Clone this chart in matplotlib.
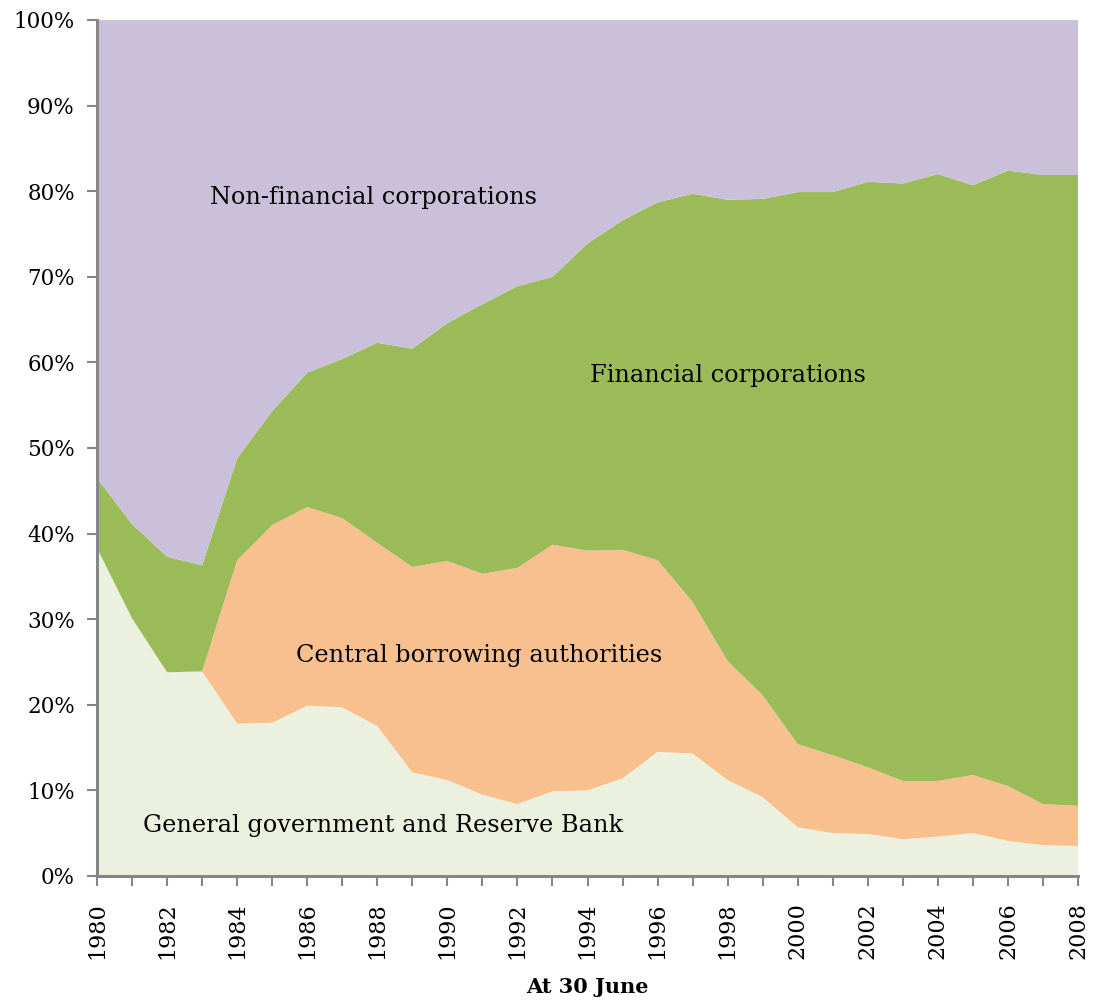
import matplotlib.pyplot as plt
import numpy as np

# shares of total, per cent, at 30 June
years = list(range(1980, 2009))
general_gov = [38.3, 30.1, 23.8, 23.9, 17.8, 17.9, 19.9, 19.7, 17.5, 12.1,
               11.2, 9.5, 8.4, 9.9, 10.0, 11.4, 14.5, 14.3, 11.2, 9.2,
               5.7, 5.0, 4.9, 4.3, 4.6, 5.0, 4.1, 3.6, 3.5]
central_borrowing = [0, 0, 0, 0, 19.1, 23.1, 23.2, 22.1, 21.4, 24.0,
                     25.6, 25.8, 27.6, 28.8, 28.0, 26.7, 22.4, 17.7, 13.9, 11.9,
                     9.7, 9.1, 7.8, 6.8, 6.5, 6.8, 6.4, 4.8, 4.7]
financial = [8.2, 11.0, 13.5, 12.4, 11.9, 13.3, 15.7, 18.6, 23.4, 25.5,
             27.8, 31.5, 32.9, 31.3, 35.9, 38.5, 41.8, 47.7, 53.9, 58.0,
             64.5, 65.8, 68.4, 69.8, 70.9, 68.9, 71.9, 73.5, 73.7]
non_financial = [53.5, 58.9, 62.7, 63.7, 51.2, 45.7, 41.2, 39.6, 37.7, 38.4,
                 35.4, 33.2, 31.1, 30.0, 26.1, 23.4, 21.3, 20.3, 21.0, 20.9,
                 20.1, 20.1, 18.9, 19.1, 18.0, 19.3, 17.6, 18.1, 18.1]
labels = ['General government and Reserve Bank', 'Central borrowing authorities',
          'Financial corporations', 'Non-financial corporations']
colors = ['#EBF0DF', '#F9C08F', '#9BBB59', '#CBC0DA']

plt.rcParams['font.family'] = ['DejaVu Serif']
grey = '#868686'

fig = plt.figure(figsize=(10.94, 10), dpi=100)
ax = fig.add_axes([0.0887, 0.124, 0.8967, 0.856])

ax.stackplot(years, general_gov, central_borrowing, financial, non_financial,
             colors=colors, linewidth=0)

ax.set_xlim(1980, 2008)
ax.set_ylim(0, 100)
ax.set_yticks(np.arange(0, 101, 10))
ax.set_yticklabels([f'{v}%' for v in range(0, 101, 10)], fontsize=15.5)
ax.set_xticks(years[::2])
ax.set_xticks(years, minor=True)
ax.set_xticklabels([str(y) for y in years[::2]], rotation=90, fontsize=16)
ax.tick_params(axis='both', which='both', direction='out', length=7,
               width=1.5, color=grey)
ax.tick_params(axis='y', pad=9)
ax.tick_params(axis='x', which='major', pad=12)

for s in ['top', 'right']:
    ax.spines[s].set_visible(False)
for s in ['left', 'bottom']:
    ax.spines[s].set_color(grey)
    ax.spines[s].set_linewidth(2.2)

ax.set_xlabel('At 30 June', fontsize=15, fontweight='bold', labelpad=13)

# area labels
ax.text(1987.9, 79.3, labels[3], fontsize=17.3, ha='center', va='center')
ax.text(1998.0, 58.5, labels[2], fontsize=17.3, ha='center', va='center')
ax.text(1990.9, 25.8, labels[1], fontsize=17.3, ha='center', va='center')
ax.text(1988.15, 5.9, labels[0], fontsize=17.3, ha='center', va='center')

plt.savefig('out.png', dpi=100)
